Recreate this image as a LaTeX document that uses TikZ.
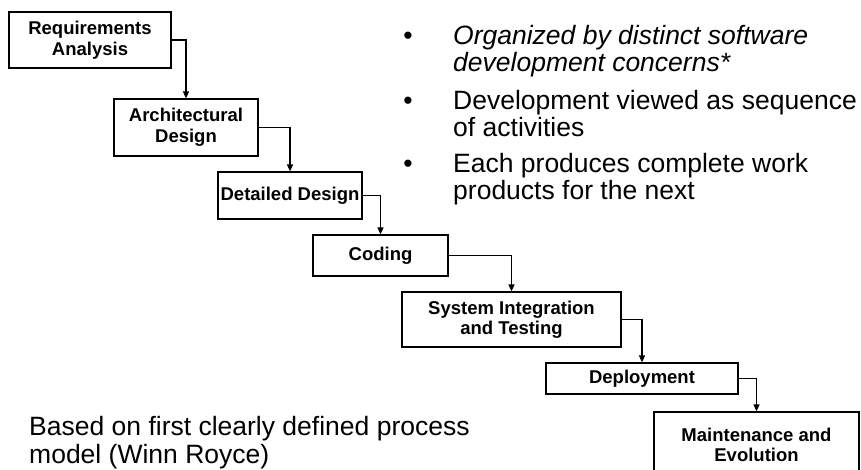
\documentclass[tikz,border=0pt]{standalone}
\usepackage{fontspec}
\setmainfont{Liberation Sans}
\usetikzlibrary{arrows.meta}

\begin{document}
\begin{tikzpicture}[
  x=1pt, y=-1pt,
  phase/.style={rectangle,draw,line width=1.2pt,align=center,inner sep=2pt,
    font=\bfseries\fontsize{18.5}{20.5}\selectfont},
  flow/.style={-{Triangle[length=7pt,width=6pt]},line width=1.3pt},
  remark/.style={anchor=base west,align=left,inner sep=0pt,
    font=\fontsize{26.5}{27}\selectfont},
  dot/.style={anchor=base,inner sep=0pt,font=\fontsize{26.5}{27}\selectfont}
]
\clip (0,0) rectangle (861,469);

% --- Phases of the waterfall ---
\node[phase,minimum width=162pt,minimum height=56pt] (req)  at (90,40)     {Requirements\\Analysis};
\node[phase,minimum width=144pt,minimum height=57pt] (arch) at (186,127.5) {Architectural\\Design};
\node[phase,minimum width=144pt,minimum height=47pt] (det)  at (290,195.5) {Detailed Design};
\node[phase,minimum width=135pt,minimum height=41pt] (cod)  at (380.5,255.5) {Coding};
\node[phase,minimum width=219pt,minimum height=55pt] (sit)  at (511.5,319.5) {System Integration\\and Testing};
\node[phase,minimum width=192pt,minimum height=31pt] (dep)  at (642,378.5) {Deployment};
\node[phase,minimum width=205pt,minimum height=66pt] (mnt)  at (756.5,445) {Maintenance and\\Evolution};

% --- Hand-over between phases ---
\draw[flow] (req.east)  -| (arch.north);
\draw[flow] (arch.east) -| (det.north);
\draw[flow] (det.east)  -| (cod.north);
\draw[flow] (cod.east)  -| (sit.north);
\draw[flow] (sit.east)  -| (dep.north);
\draw[flow] (dep.east)  -| (mnt.north);

% --- Notes (anchored on the last line) ---
\node[dot] (d1) at (408,44)  {•};
\node[dot] (d2) at (408,109) {•};
\node[dot] (d3) at (408,172) {•};
\node[remark] (n1) at (453,71)  {\itshape Organized by distinct software\\\itshape development concerns*};
\node[remark] (n2) at (453,136) {Development viewed as sequence\\of activities};
\node[remark] (n3) at (453,199) {Each produces complete work\\products for the next};
\node[remark,font=\fontsize{26.5}{28}\selectfont] (src) at (29,463)
  {Based on first clearly defined process\\model (Winn Royce)};

\end{tikzpicture}
\end{document}
